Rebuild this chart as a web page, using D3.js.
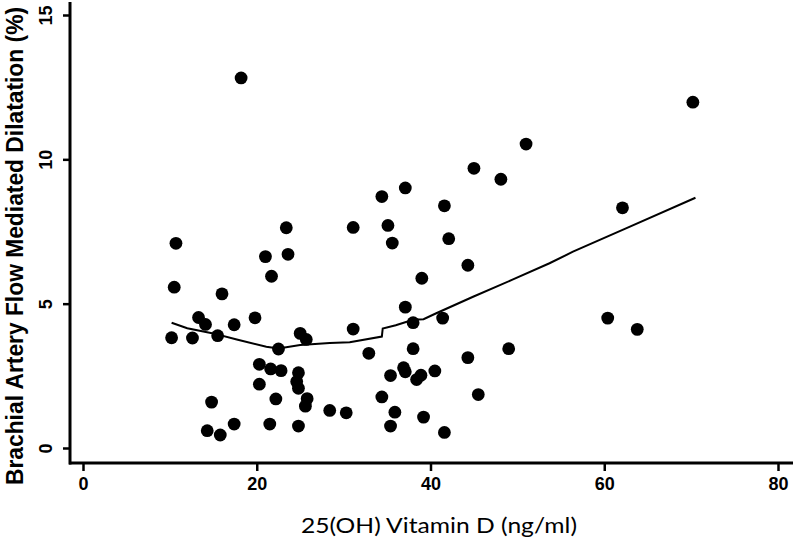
<!DOCTYPE html>
<html>
<head>
<meta charset="utf-8">
<script src="https://cdn.jsdelivr.net/npm/d3@7"></script>
<style>
  html, body { margin: 0; padding: 0; background: #fff; }
  svg { display: block; }
</style>
</head>
<body>
<script>
// points: 25(OH) vitamin D vs brachial FMD
const vitD = [10.2, 10.5, 10.7, 12.6, 13.3, 14.1, 14.3, 14.8, 15.5, 15.8, 16.0, 17.4, 17.4, 18.2,
  19.8, 20.3, 20.3, 21.0, 21.5, 21.6, 21.7, 22.2, 22.5, 22.8, 23.4, 23.6, 24.6, 24.8, 24.8, 24.8,
  25.0, 25.7, 25.8, 25.6, 28.4, 30.3, 31.1, 31.1, 32.9, 34.4, 34.4, 35.1, 35.4, 35.4, 35.6, 35.9,
  36.9, 37.1, 37.1, 37.1, 38.0, 38.0, 38.4, 38.9, 39.0, 39.2, 40.5, 41.4, 41.6, 41.6, 42.1, 44.3,
  44.3, 45.0, 45.5, 48.1, 49.0, 51.0, 60.4, 62.1, 63.8, 70.2];
const fmd = [3.82, 5.57, 7.09, 3.81, 4.52, 4.28, 0.60, 1.59, 3.89, 0.45, 5.34, 4.27, 0.83, 12.82,
  4.51, 2.90, 2.21, 6.63, 0.83, 2.74, 5.95, 1.70, 3.43, 2.68, 7.63, 6.71, 2.30, 2.61, 2.07, 0.76,
  3.97, 3.76, 1.71, 1.45, 1.30, 1.22, 7.64, 4.12, 3.28, 8.71, 1.77, 7.71, 2.51, 0.76, 7.10, 1.24,
  2.78, 2.64, 9.01, 4.88, 4.34, 3.44, 2.37, 2.52, 5.88, 1.07, 2.67, 4.50, 8.39, 0.54, 7.25, 6.33,
  3.13, 9.69, 1.85, 9.31, 3.44, 10.53, 4.50, 8.32, 4.11, 11.98];

// lowess curve, as drawn
const fitX = [10.2, 12, 15, 17.7, 21.1, 22.5, 25, 28.4, 30.7, 34.4, 34.5, 36, 38, 39.2, 40.6, 44.9, 49.5, 53.7, 56.4, 62.5, 70.5];
const fitY = [4.34, 4.15, 3.97, 3.76, 3.51, 3.45, 3.57, 3.64, 3.66, 3.86, 4.14, 4.25, 4.44, 4.46, 4.66, 5.24, 5.84, 6.40, 6.80, 7.61, 8.67];

const xTicks = [0, 20, 40, 60, 80];
const yTicks = [0, 5, 10, 15];

const width = 794;
const height = 544;

const x = d3.scaleLinear().domain([0, 80]).range([83, 778]);
const y = d3.scaleLinear().domain([0, 15]).range([448, 15]);

const axisX = 70;   // y axis line position
const axisY = 463;  // x axis line position

const svg = d3.select("body").append("svg")
    .attr("width", width)
    .attr("height", height);

svg.append("rect").attr("width", width).attr("height", height).attr("fill", "#fff");

// x axis
const gx = svg.append("g")
    .attr("transform", `translate(0,${axisY})`)
    .call(d3.axisBottom(x).tickValues(xTicks).tickSize(8).tickFormat(d3.format("d")));
gx.select(".domain").remove();
gx.selectAll(".tick line").attr("stroke", "#000").attr("stroke-width", 2.5);
gx.selectAll(".tick text")
    .attr("y", 27).attr("dy", 0)
    .attr("fill", "#000")
    .style("font", "bold 18px 'Liberation Sans', Arial, sans-serif");
svg.append("line")
    .attr("x1", axisX - 1).attr("x2", 793)
    .attr("y1", axisY).attr("y2", axisY)
    .attr("stroke", "#000").attr("stroke-width", 3);

// y axis
const gy = svg.append("g")
    .attr("transform", `translate(${axisX},0)`)
    .call(d3.axisLeft(y).tickValues(yTicks).tickSize(7).tickFormat(d3.format("d")));
gy.select(".domain").remove();
gy.selectAll(".tick line").attr("stroke", "#000").attr("stroke-width", 2.5);
gy.selectAll(".tick text")
    .attr("x", 0).attr("y", 0).attr("dy", 0)
    .attr("text-anchor", "middle")
    .attr("transform", "translate(-18,0) rotate(-90)")
    .attr("fill", "#000")
    .style("font", "bold 18px 'Liberation Sans', Arial, sans-serif");
svg.append("line")
    .attr("x1", axisX).attr("x2", axisX)
    .attr("y1", 2).attr("y2", axisY + 1.5)
    .attr("stroke", "#000").attr("stroke-width", 3);

// titles
svg.append("text")
    .attr("transform", "translate(23,246) rotate(-90)")
    .attr("text-anchor", "middle")
    .attr("textLength", 478)
    .attr("lengthAdjust", "spacingAndGlyphs")
    .style("font", "bold 24px 'Liberation Sans', Arial, sans-serif")
    .text("Brachial Artery Flow Mediated Dilatation (%)");

svg.append("text")
    .attr("x", 301).attr("y", 533)
    .attr("textLength", 276)
    .attr("lengthAdjust", "spacingAndGlyphs")
    .style("font", "21px Lato, 'Open Sans', sans-serif")
    .text("25(OH) Vitamin D (ng/ml)");

// points
svg.append("g")
  .selectAll("circle")
  .data(d3.range(vitD.length))
  .join("circle")
    .attr("cx", i => x(vitD[i]))
    .attr("cy", i => y(fmd[i]))
    .attr("r", 6.4)
    .attr("fill", "#000");

// lowess line
const line = d3.line()
    .x(i => x(fitX[i]))
    .y(i => y(fitY[i]));

svg.append("path")
    .datum(d3.range(fitX.length))
    .attr("d", line)
    .attr("fill", "none")
    .attr("stroke", "#000")
    .attr("stroke-width", 2);
</script>
</body>
</html>
